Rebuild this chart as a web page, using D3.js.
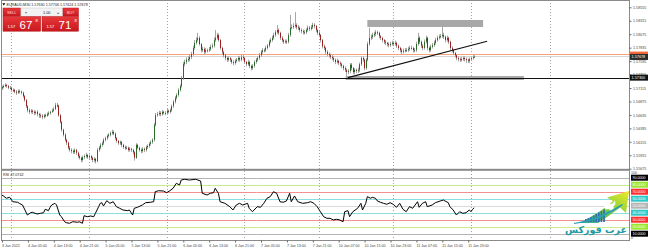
<!DOCTYPE html>
<html>
<head>
<meta charset="utf-8">
<script src="https://cdn.jsdelivr.net/npm/d3@7/dist/d3.min.js"></script>
<style>
body { margin: 0; background: #fff; }
svg { display: block; font-family: "Liberation Sans", Arial, sans-serif; }
</style>
</head>
<body>
<svg id="chart" width="648" height="250"></svg>
<script>
// EURAUD M30 candles (open = previous close)
const firstOpen = 1.5711;
const closes = [
1.5713,1.5715,1.5717,1.5715,1.5712,1.5712,1.5708,1.5708,1.5705,1.5703,
1.5706,1.5705,1.5703,1.5697,1.5690,1.5679,1.5672,1.5669,1.5671,1.5669,
1.5667,1.5669,1.5665,1.5663,1.5662,1.5660,1.5663,1.5662,1.5665,1.5667,
1.5669,1.5671,1.5674,1.5681,1.5680,1.5663,1.5651,1.5637,1.5628,1.5619,
1.5614,1.5605,1.5601,1.5599,1.5597,1.5601,1.5596,1.5590,1.5587,1.5583,
1.5588,1.5590,1.5592,1.5588,1.5590,1.5587,1.5583,1.5585,1.5581,1.5601,
1.5605,1.5610,1.5613,1.5619,1.5622,1.5626,1.5628,1.5631,1.5633,1.5630,
1.5622,1.5617,1.5613,1.5615,1.5610,1.5606,1.5605,1.5605,1.5601,1.5603,
1.5601,1.5597,1.5587,1.5610,1.5605,1.5601,1.5599,1.5603,1.5601,1.5606,
1.5608,1.5612,1.5615,1.5619,1.5646,1.5663,1.5665,1.5667,1.5665,1.5669,
1.5667,1.5667,1.5671,1.5669,1.5672,1.5679,1.5687,1.5694,1.5699,1.5708,
1.5715,1.5729,1.5754,1.5758,1.5762,1.5763,1.5767,1.5772,1.5783,1.5792,
1.5797,1.5801,1.5790,1.5779,1.5781,1.5776,1.5779,1.5779,1.5781,1.5785,
1.5787,1.5797,1.5801,1.5806,1.5797,1.5783,1.5776,1.5770,1.5765,1.5762,
1.5765,1.5762,1.5758,1.5756,1.5760,1.5762,1.5765,1.5762,1.5767,1.5765,
1.5758,1.5754,1.5758,1.5751,1.5747,1.5751,1.5758,1.5762,1.5765,1.5770,
1.5776,1.5779,1.5779,1.5783,1.5787,1.5794,1.5797,1.5801,1.5806,1.5811,
1.5815,1.5810,1.5801,1.5797,1.5794,1.5795,1.5794,1.5806,1.5819,1.5820,
1.5822,1.5824,1.5820,1.5819,1.5815,1.5813,1.5811,1.5811,1.5815,1.5819,
1.5817,1.5820,1.5824,1.5822,1.5815,1.5810,1.5806,1.5797,1.5786,1.5783,
1.5776,1.5772,1.5770,1.5767,1.5765,1.5762,1.5758,1.5760,1.5756,1.5754,
1.5751,1.5747,1.5744,1.5740,1.5742,1.5753,1.5747,1.5740,1.5744,1.5742,
1.5744,1.5754,1.5765,1.5762,1.5747,1.5762,1.5790,1.5801,1.5803,1.5806,
1.5808,1.5811,1.5810,1.5804,1.5801,1.5797,1.5794,1.5792,1.5790,1.5788,
1.5790,1.5792,1.5790,1.5792,1.5787,1.5783,1.5779,1.5776,1.5778,1.5779,
1.5779,1.5781,1.5783,1.5783,1.5779,1.5779,1.5790,1.5801,1.5794,1.5787,
1.5783,1.5794,1.5801,1.5783,1.5779,1.5785,1.5788,1.5792,1.5797,1.5801,
1.5803,1.5804,1.5806,1.5803,1.5797,1.5801,1.5794,1.5783,1.5779,1.5774,
1.5770,1.5765,1.5763,1.5762,1.5763,1.5765,1.5763,1.5762,1.5760,1.5763,
1.5765,1.5767,1.57678];
const highs = [
1.5716,1.5718,1.5720,1.5719,1.5717,1.5715,1.5714,1.5711,1.5710,1.5708,
1.5709,1.5709,1.5707,1.5705,1.5699,1.5692,1.5681,1.5675,1.5674,1.5673,
1.5672,1.5671,1.5672,1.5667,1.5666,1.5665,1.5665,1.5666,1.5668,1.5670,
1.5671,1.5675,1.5677,1.5685,1.5685,1.5682,1.5665,1.5653,1.5639,1.5631,
1.5621,1.5616,1.5608,1.5604,1.5602,1.5604,1.5603,1.5598,1.5593,1.5589,
1.5591,1.5593,1.5596,1.5594,1.5593,1.5592,1.5589,1.5588,1.5587,1.5604,
1.5608,1.5613,1.5616,1.5622,1.5625,1.5629,1.5631,1.5634,1.5637,1.5636,
1.5632,1.5624,1.5619,1.5618,1.5617,1.5612,1.5609,1.5608,1.5607,1.5606,
1.5605,1.5603,1.5599,1.5613,1.5612,1.5607,1.5604,1.5606,1.5605,1.5609,
1.5611,1.5615,1.5618,1.5622,1.5649,1.5667,1.5669,1.5671,1.5670,1.5672,
1.5671,1.5670,1.5674,1.5673,1.5675,1.5682,1.5690,1.5697,1.5702,1.5711,
1.5718,1.5733,1.5758,1.5762,1.5766,1.5768,1.5771,1.5776,1.5787,1.5797,
1.5802,1.5810,1.5804,1.5792,1.5785,1.5784,1.5783,1.5782,1.5785,1.5789,
1.5791,1.5802,1.5815,1.5810,1.5809,1.5799,1.5785,1.5778,1.5773,1.5768,
1.5768,1.5767,1.5764,1.5761,1.5763,1.5765,1.5769,1.5768,1.5771,1.5770,
1.5767,1.5760,1.5762,1.5760,1.5753,1.5754,1.5761,1.5765,1.5768,1.5774,
1.5779,1.5783,1.5782,1.5787,1.5790,1.5798,1.5801,1.5805,1.5810,1.5815,
1.5824,1.5818,1.5812,1.5804,1.5799,1.5798,1.5798,1.5810,1.5842,1.5825,
1.5827,1.5847,1.5827,1.5824,1.5821,1.5818,1.5816,1.5815,1.5818,1.5823,
1.5822,1.5824,1.5828,1.5827,1.5824,1.5817,1.5813,1.5808,1.5799,1.5789,
1.5785,1.5779,1.5775,1.5773,1.5770,1.5768,1.5764,1.5764,1.5762,1.5759,
1.5757,1.5753,1.5750,1.5746,1.5745,1.5756,1.5756,1.5749,1.5747,1.5746,
1.5748,1.5757,1.5768,1.5768,1.5764,1.5765,1.5794,1.5819,1.5807,1.5810,
1.5812,1.5815,1.5814,1.5812,1.5806,1.5803,1.5799,1.5797,1.5794,1.5793,
1.5794,1.5796,1.5795,1.5796,1.5794,1.5789,1.5785,1.5782,1.5782,1.5783,
1.5783,1.5785,1.5787,1.5787,1.5785,1.5783,1.5794,1.5810,1.5804,1.5796,
1.5790,1.5798,1.5805,1.5803,1.5786,1.5789,1.5792,1.5796,1.5801,1.5805,
1.5807,1.5808,1.5822,1.5810,1.5805,1.5805,1.5803,1.5796,1.5786,1.5781,
1.5776,1.5772,1.5768,1.5766,1.5767,1.5768,1.5768,1.5766,1.5764,1.5766,
1.5768,1.5770,1.5770];
const lows = [
1.5708,1.5711,1.5713,1.5712,1.5709,1.5709,1.5705,1.5704,1.5702,1.5699,
1.5701,1.5702,1.5700,1.5694,1.5687,1.5676,1.5668,1.5665,1.5666,1.5665,
1.5663,1.5664,1.5661,1.5658,1.5658,1.5656,1.5657,1.5659,1.5660,1.5662,
1.5664,1.5667,1.5669,1.5672,1.5677,1.5660,1.5648,1.5634,1.5625,1.5616,
1.5610,1.5602,1.5598,1.5595,1.5594,1.5594,1.5592,1.5586,1.5584,1.5579,
1.5580,1.5585,1.5587,1.5585,1.5584,1.5583,1.5579,1.5579,1.5577,1.5579,
1.5598,1.5602,1.5607,1.5610,1.5616,1.5619,1.5623,1.5625,1.5628,1.5627,
1.5619,1.5614,1.5610,1.5610,1.5606,1.5603,1.5601,1.5602,1.5598,1.5598,
1.5597,1.5593,1.5582,1.5585,1.5602,1.5598,1.5595,1.5596,1.5597,1.5598,
1.5603,1.5605,1.5609,1.5612,1.5616,1.5643,1.5660,1.5662,1.5661,1.5662,
1.5664,1.5663,1.5664,1.5666,1.5666,1.5669,1.5676,1.5684,1.5691,1.5696,
1.5705,1.5712,1.5726,1.5750,1.5754,1.5758,1.5759,1.5763,1.5769,1.5780,
1.5789,1.5794,1.5787,1.5775,1.5776,1.5772,1.5773,1.5775,1.5776,1.5778,
1.5782,1.5784,1.5794,1.5798,1.5794,1.5780,1.5772,1.5766,1.5761,1.5758,
1.5759,1.5758,1.5754,1.5752,1.5753,1.5757,1.5759,1.5758,1.5759,1.5761,
1.5755,1.5750,1.5751,1.5747,1.5743,1.5744,1.5748,1.5755,1.5759,1.5762,
1.5767,1.5773,1.5775,1.5776,1.5780,1.5784,1.5791,1.5794,1.5798,1.5803,
1.5808,1.5806,1.5797,1.5793,1.5790,1.5791,1.5790,1.5791,1.5803,1.5816,
1.5817,1.5819,1.5816,1.5815,1.5811,1.5809,1.5807,1.5807,1.5808,1.5812,
1.5813,1.5814,1.5817,1.5818,1.5811,1.5806,1.5802,1.5793,1.5782,1.5779,
1.5772,1.5768,1.5766,1.5763,1.5761,1.5758,1.5754,1.5755,1.5752,1.5750,
1.5747,1.5743,1.5740,1.5733,1.5736,1.5738,1.5743,1.5736,1.5736,1.5738,
1.5738,1.5740,1.5751,1.5758,1.5743,1.5744,1.5759,1.5787,1.5797,1.5799,
1.5802,1.5804,1.5806,1.5800,1.5797,1.5793,1.5790,1.5788,1.5786,1.5784,
1.5785,1.5787,1.5786,1.5787,1.5783,1.5779,1.5775,1.5772,1.5773,1.5775,
1.5776,1.5776,1.5778,1.5780,1.5775,1.5775,1.5776,1.5787,1.5790,1.5783,
1.5779,1.5780,1.5791,1.5779,1.5775,1.5776,1.5782,1.5785,1.5789,1.5794,
1.5798,1.5800,1.5801,1.5799,1.5793,1.5794,1.5790,1.5779,1.5775,1.5770,
1.5766,1.5761,1.5759,1.5758,1.5759,1.5760,1.5759,1.5756,1.5756,1.5756,
1.5761,1.5762,1.5765];

const timeLabels = ["3 Jan 2022","4 Jan 05:00","4 Jan 13:00","4 Jan 21:00","5 Jan 05:00","5 Jan 13:00",
  "5 Jan 21:00","6 Jan 05:00","6 Jan 13:00","6 Jan 21:00","7 Jan 05:00","7 Jan 13:00","7 Jan 21:00",
  "10 Jan 07:00","10 Jan 15:00","10 Jan 23:00","11 Jan 07:00","11 Jan 15:00","11 Jan 23:00"];
const timeLabelBars = [0,16,32,48,64,80,96,112,128,144,160,176,192,208,224,240,256,272,288];
const dayStartBars = [6,54,102,150,196,242,290,339];
const priceTicks = [1.58555,1.58315,1.58075,1.57835,1.57595,1.57355,1.57115,1.56875,1.56635,1.56395,1.56155,1.55915,1.55675];

// RSI(14) line
const rsiBars = [0,1,3,5,7,10,11,13,16,18,19,22,24,26,27,29,30,31,33,34,36,37,39,40,42,44,47,48,50,51,
  53,55,57,58,60,61,62,63,65,67,69,71,73,75,78,79,81,82,84,87,89,92,94,95,97,100,102,104,106,108,
  110,111,113,116,120,123,124,127,129,131,132,134,135,138,141,143,145,147,149,152,153,155,158,160,162,164,166,168,170,172,
  174,176,178,179,181,183,186,189,191,193,195,197,199,201,203,205,207,209,211,212,214,215,217,220,222,223,225,226,228,229,
  231,232,234,236,238,240,242,244,246,248,250,252,254,257,258,260,262,263,266,268,271,273,274,276,277,279,281,283,285,287,
  289,290,291,292];
const rsiValues = [65.3,64.3,60.6,62,55.7,54.9,53.4,51,36.7,40,40.6,38.1,39.1,40,44.9,42.9,47.7,51,53.4,51,
  36.7,34.3,27.1,25.7,24.9,27.1,26.3,27.1,24.9,35.7,34.3,35.3,34.3,39.1,48.6,53.4,54.3,49.6,57.1,53.4,
  55.7,48.6,46.3,43.9,42.9,43.9,36.7,46.3,47.7,51,54.3,54.9,55.7,70,71.4,71,68.6,71.4,74.9,82,
  79.6,86.7,87.7,86.7,87.7,85.3,67.7,65.3,67.7,68.6,74.9,67.7,55.7,53.4,48.6,43.9,51,53.4,51,53.4,
  46.3,41.4,48.6,47.7,53.4,60.6,62.9,70,67.7,55.7,54.9,56.7,67.7,55.7,63.9,55.7,53.4,54.3,55.7,53.4,
  48.6,41.4,34.3,32,32,29.6,30.6,29.6,27.1,41.4,42.9,34.3,41.4,46.3,53.4,43.9,53.4,62.9,60.6,62,
  60.6,57.1,54.9,53.4,52,54.3,52,47.7,53.4,44.9,41.4,48.6,46.3,55.7,47.7,53.4,55.7,48.6,51,54.3,
  56.7,58.1,56.7,54.3,48.6,43.9,36.7,41.4,39.1,40,43.9,41.4,44.9,47.07];
const rsiLevels = [90,80,70,60,50,40,30,20,10];
const rsiLineColors = ["#b4b4b4","#c8ee8c","#f59090","#8cdede","#dadada","#8cdede","#f59090","#c8ee8c","#b4b4b4"];
const rsiLabelColors = ["#000000","#99e62e","#ff2e2e","#2ec8c8","#b4b4b4","#2ec8c8","#ff2e2e","#99e62e","#000000"];

// drawn objects
const bidPrice = 1.57678, alertPrice = 1.5772, supportPrice = 1.5730;
const zoneBars = [[226, 297.5], [212.6, 322.7]];
const zonePrices = [[1.58329, 1.58204], [1.57329, 1.57258]];
const trendBars = [214, 300];
const trendPrices = [1.5730, 1.5795];

const headerText = "EURAUD,M30  1.57630 1.57706 1.57624 1.57678";
const rsiText = "RSI 47.0742";

var svg = d3.select("#chart"),
	right = 629.5,
	mainTop = 1, mainBottom = 169,
	rsiTop = 171, rsiBottom = 240.7;

var x = d3.scaleLinear().domain([0, 292]).range([1.5, 474.2]);
var y = d3.scaleLinear().domain([1.5567, 1.58614]).range([169, 4]);
var yR = d3.scaleLinear().domain([0, 100]).range([240.7, 170.7]);

var defs = svg.append("defs");
defs.append("clipPath").attr("id", "clipMain").append("rect")
	.attr("x", 1.5).attr("y", mainTop).attr("width", right - 1.5).attr("height", mainBottom - mainTop);
defs.append("clipPath").attr("id", "clipRsi").append("rect")
	.attr("x", 1.5).attr("y", rsiTop).attr("width", right - 1.5).attr("height", rsiBottom - rsiTop);

var redGrad = defs.append("linearGradient").attr("id", "redGrad").attr("x1", 0).attr("y1", 0).attr("x2", 0).attr("y2", 1);
redGrad.append("stop").attr("offset", "0%").attr("stop-color", "#e8383a");
redGrad.append("stop").attr("offset", "100%").attr("stop-color", "#c8181e");

var logoGrad = defs.append("linearGradient").attr("id", "logoGrad").attr("x1", 0).attr("y1", 1).attr("x2", 1).attr("y2", 0);
logoGrad.append("stop").attr("offset", "0%").attr("stop-color", "#2fa5a8");
logoGrad.append("stop").attr("offset", "50%").attr("stop-color", "#7fce3c");
logoGrad.append("stop").attr("offset", "100%").attr("stop-color", "#f0ea28");

var main = svg.append("g").attr("clip-path", "url(#clipMain)");
var rsiPane = svg.append("g").attr("clip-path", "url(#clipRsi)");

// vertical day separators
[main, rsiPane].forEach(function(g) {
	g.selectAll(".vgrid").data(dayStartBars).enter().append("line")
		.attr("class", "vgrid")
		.attr("x1", d => Math.round(x(d)) + 0.5).attr("x2", d => Math.round(x(d)) + 0.5)
		.attr("y1", 0).attr("y2", 250)
		.attr("stroke", "#8c8c8c").attr("stroke-width", 0.8)
		.attr("stroke-dasharray", "1,2");
});

// zones
main.selectAll(".zone").data(zoneBars).enter().append("rect")
	.attr("class", "zone")
	.attr("x", d => x(d[0])).attr("width", d => x(d[1]) - x(d[0]))
	.attr("y", (d, i) => y(zonePrices[i][0]))
	.attr("height", (d, i) => y(zonePrices[i][1]) - y(zonePrices[i][0]))
	.attr("fill", "#a8a8a8");

// horizontal lines
main.append("line").attr("x1", 0).attr("x2", right).attr("y1", Math.round(y(alertPrice)) + 0.5).attr("y2", Math.round(y(alertPrice)) + 0.5)
	.attr("stroke", "#f7a27a").attr("stroke-width", 1);
main.append("line").attr("x1", 0).attr("x2", right).attr("y1", Math.round(y(bidPrice)) + 0.5).attr("y2", Math.round(y(bidPrice)) + 0.5)
	.attr("stroke", "#d4d4d4").attr("stroke-width", 1);
main.append("line").attr("x1", 0).attr("x2", right).attr("y1", Math.round(y(supportPrice)) + 0.5).attr("y2", Math.round(y(supportPrice)) + 0.5)
	.attr("stroke", "#111").attr("stroke-width", 1.2);

// candles
var bars = closes.map((c, i) => ({i: i, o: i ? closes[i - 1] : firstOpen, h: highs[i], l: lows[i], c: c}));

var candle = main.selectAll("g.candle").data(bars).enter().append("g").attr("class", "candle");
candle.append("line")
	.attr("x1", d => Math.round(x(d.i)) + 0.5).attr("x2", d => Math.round(x(d.i)) + 0.5)
	.attr("y1", d => y(d.h)).attr("y2", d => y(d.l))
	.attr("stroke", "#a6a6a6").attr("stroke-width", 1);
candle.append("rect")
	.attr("x", d => Math.round(x(d.i)))
	.attr("width", 1)
	.attr("y", d => y(Math.max(d.o, d.c)))
	.attr("height", d => Math.max(1, Math.abs(y(d.o) - y(d.c))))
	.attr("fill", d => d.c > d.o ? "#2a6b2a" : (d.c < d.o ? "#9a1f1f" : "#555"));

// trend line
main.append("line")
	.attr("x1", x(trendBars[0])).attr("y1", y(trendPrices[0]))
	.attr("x2", x(trendBars[1])).attr("y2", y(trendPrices[1]))
	.attr("stroke", "#111").attr("stroke-width", 1.2);

// RSI levels + line
rsiPane.selectAll(".lvl").data(rsiLevels).enter().append("line")
	.attr("class", "lvl")
	.attr("x1", 0).attr("x2", right)
	.attr("y1", d => Math.round(yR(d)) + 0.5).attr("y2", d => Math.round(yR(d)) + 0.5)
	.attr("stroke", (d, i) => rsiLineColors[i]).attr("stroke-width", 1);

rsiPane.append("path")
	.datum(rsiBars.map((b, i) => [b, rsiValues[i]]))
	.attr("fill", "none").attr("stroke", "#000").attr("stroke-width", 1)
	.attr("d", d3.line().x(d => x(d[0])).y(d => yR(d[1])));

// frame and pane divider
svg.append("rect").attr("x", 1.5).attr("y", 0.5).attr("width", right - 1.5).attr("height", 240)
	.attr("fill", "none").attr("stroke", "#8a8a8a").attr("stroke-width", 1);
svg.append("rect").attr("x", 1.5).attr("y", 168.8).attr("width", right - 1.5).attr("height", 2)
	.attr("fill", "#8a8a8a");

// price axis
var pAxis = svg.append("g").attr("transform", `translate(${right},0)`)
	.call(d3.axisRight(y).tickValues(priceTicks).tickFormat(d3.format(".5f")).tickSize(2).tickPadding(1.5));
pAxis.select(".domain").remove();
pAxis.selectAll("line").attr("stroke", "#666");
pAxis.selectAll("text").attr("font-size", "3.7px").attr("fill", "#444").attr("font-family", "Liberation Sans, Arial");

// price tags
function tag(py, txt, bg) {
	svg.append("rect").attr("x", right + 0.5).attr("y", py - 3).attr("width", 18).attr("height", 6).attr("fill", bg);
	svg.append("text").attr("x", right + 2).attr("y", py).attr("dy", "0.35em")
		.attr("font-size", "3.8px").attr("fill", "#fff").text(txt);
}
svg.append("rect").attr("x", right + 0.5).attr("y", y(alertPrice) - 2.5).attr("width", 18).attr("height", 4).attr("fill", "#f26a3c");
tag(y(bidPrice) + 0.5, d3.format(".5f")(bidPrice), "#2b2b2b");
tag(y(supportPrice), d3.format(".5f")(supportPrice), "#111");

// RSI scale labels
rsiLevels.forEach(function(v, i) {
	svg.append("rect").attr("x", right + 1.5).attr("y", yR(v) - 3).attr("width", 17).attr("height", 6)
		.attr("fill", rsiLabelColors[i]);
	svg.append("text").attr("x", right + 3).attr("y", yR(v)).attr("dy", "0.35em")
		.attr("font-size", "3.6px").attr("fill", "#fff").text(d3.format(".4f")(v));
});
svg.append("text").attr("x", right + 1.5).attr("y", 172.3).attr("dy", "0.35em").attr("font-size", "3.6px").attr("fill", "#444").text("100");
svg.append("text").attr("x", right + 1.5).attr("y", 238).attr("dy", "0.35em").attr("font-size", "3.6px").attr("fill", "#444").text("0");

// time axis
var tAxis = svg.append("g").attr("transform", "translate(0,240.5)")
	.call(d3.axisBottom(x).tickValues(timeLabelBars).tickFormat((d, i) => timeLabels[i]).tickSize(2).tickPadding(1.5));
tAxis.select(".domain").remove();
tAxis.selectAll("line").attr("stroke", "#666").attr("transform", "translate(0.5,0)");
tAxis.selectAll("text").attr("text-anchor", "start").attr("font-size", "3.6px").attr("fill", "#444");

// header texts
svg.append("path").attr("d", "M2.3,3.2 L5.3,3.2 L3.8,5.4 Z").attr("fill", "#000");
svg.append("text").attr("x", 6.5).attr("y", 4.3).attr("dy", "0.35em").attr("font-size", "3.7px").attr("fill", "#222").text(headerText);
svg.append("text").attr("x", 3).attr("y", 174.5).attr("dy", "0.35em").attr("font-size", "3.7px").attr("fill", "#222").text(rsiText);

// one-click trading panel
var panel = svg.append("g");
panel.append("rect").attr("x", 3).attr("y", 8).attr("width", 17.5).attr("height", 8.2).attr("fill", "url(#redGrad)").attr("stroke", "#b31419").attr("stroke-width", 0.5);
panel.append("rect").attr("x", 21).attr("y", 8).attr("width", 41.5).attr("height", 8.2).attr("fill", "#f3f3f3").attr("stroke", "#c4c4c4").attr("stroke-width", 0.5);
panel.append("rect").attr("x", 63).attr("y", 8).attr("width", 15.5).attr("height", 8.2).attr("fill", "url(#redGrad)").attr("stroke", "#b31419").attr("stroke-width", 0.5);
panel.append("text").attr("x", 11.7).attr("y", 12.3).attr("dy", "0.35em").attr("text-anchor", "middle").attr("font-size", "3.8px").attr("fill", "#ffd8d8").text("SELL");
panel.append("text").attr("x", 70.7).attr("y", 12.3).attr("dy", "0.35em").attr("text-anchor", "middle").attr("font-size", "3.8px").attr("fill", "#ffd8d8").text("BUY");
panel.append("text").attr("x", 25.5).attr("y", 12.3).attr("dy", "0.35em").attr("text-anchor", "middle").attr("font-size", "3.5px").attr("fill", "#777").text("▾");
panel.append("text").attr("x", 57.5).attr("y", 12.3).attr("dy", "0.35em").attr("text-anchor", "middle").attr("font-size", "3.5px").attr("fill", "#777").text("▴");
panel.append("text").attr("x", 50.5).attr("y", 12.3).attr("dy", "0.35em").attr("text-anchor", "end").attr("font-size", "3.9px").attr("fill", "#222").text("1.00");

var quotes = [{x: 3, w: 37.7, big: "67", sup: "8"}, {x: 42, w: 36.5, big: "71", sup: "8"}];
quotes.forEach(function(q) {
	panel.append("rect").attr("x", q.x).attr("y", 16.6).attr("width", q.w).attr("height", 14.6)
		.attr("fill", "url(#redGrad)").attr("stroke", "#b31419").attr("stroke-width", 0.5);
	panel.append("text").attr("x", q.x + 4.5).attr("y", 28.3).attr("font-size", "4px").attr("fill", "#fff").text("1.57");
	panel.append("text").attr("x", q.x + 16.5).attr("y", 29.2).attr("font-size", "11.5px").attr("fill", "#fff").text(q.big);
	panel.append("text").attr("x", q.x + 32.5).attr("y", 22).attr("font-size", "4.2px").attr("fill", "#fff").text(q.sup);
});

// watermark logo (arrow, bull head, rising bars, name)
var logo = svg.append("g");
logo.append("path")
	.attr("d", "M579,223 C592,217 604,209 613,201 L607,197.5 L629,191 L626,213 L620,207.5 C612,214 604,219 598,223 Z")
	.attr("fill", "url(#logoGrad)");
logo.append("path")
	.attr("d", "M604,206 l2.5,-3.5 l2.5,1.5 l3.5,-0.5 l2.5,-3 l0.5,3.5 l-2,2.5 l0.5,4 l-3,1.5 l-2,-3 l-3.5,0.5 Z")
	.attr("fill", "#fff");
var logoBars = [3, 4, 5, 6.5, 8, 9.5, 11, 12.5];
logoBars.forEach(function(h, i) {
	logo.append("rect").attr("x", 585 + i * 2.6).attr("y", 222 - h).attr("width", 1.7).attr("height", h).attr("fill", "#2f6fae");
});
logo.append("path").attr("d", "M574,223 C590,220 606,214 622,204 L623,205 C608,216 592,222 574,224 Z").attr("fill", "#2a9fb0");
logo.append("text").attr("x", 596).attr("y", 233).attr("text-anchor", "middle")
	.attr("font-family", "DejaVu Sans").attr("font-size", "9.5px").attr("font-weight", "bold").attr("fill", "#1c9aa6").text("عرب فوركس");
</script>
</body>
</html>
